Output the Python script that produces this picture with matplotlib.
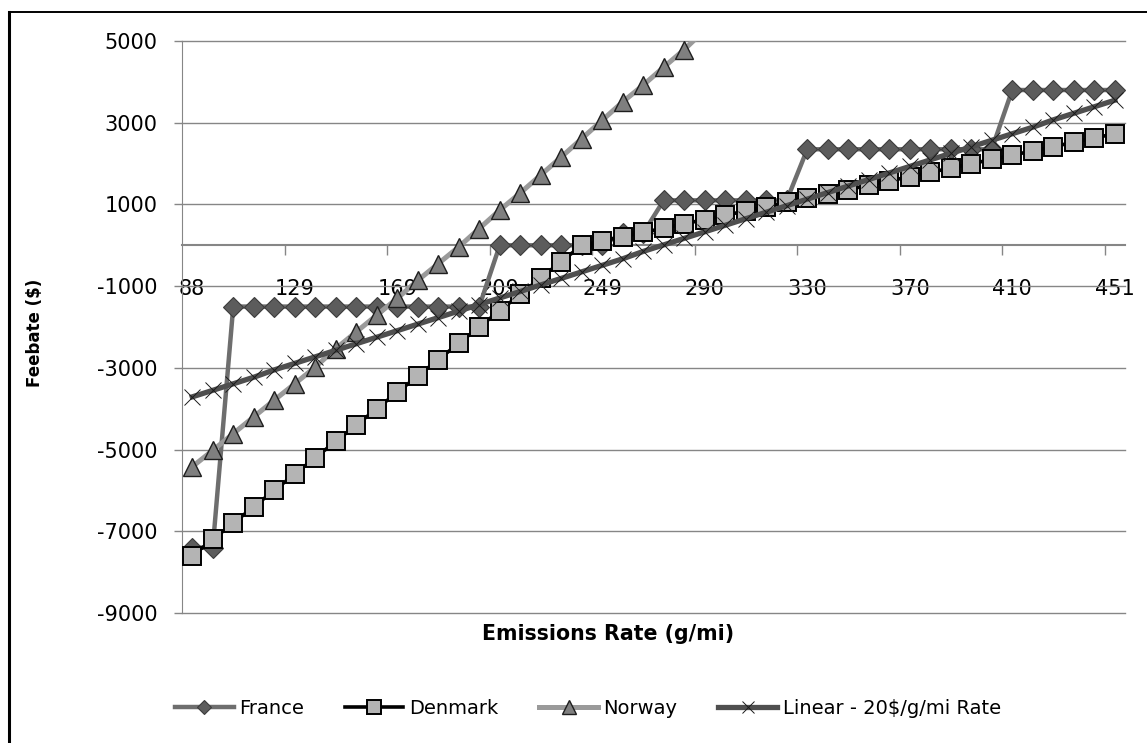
import numpy as np
import matplotlib
matplotlib.use('Agg')
import matplotlib.pyplot as plt
from matplotlib.lines import Line2D

# emission rate categories (g/mi)
rates = [88, 96, 104, 112, 121, 129, 137, 145, 153, 161,
         169, 177, 185, 193, 201, 209, 217, 225, 233, 241,
         249, 257, 266, 274, 282, 290, 298, 306, 314, 322,
         330, 338, 346, 354, 362, 370, 378, 386, 394, 402,
         410, 418, 427, 435, 443, 451]

france = [-7400, -7400, -1500, -1500, -1500, -1500, -1500, -1500, -1500, -1500,
          -1500, -1500, -1500, -1500, -1500, 0, 0, 0, 0, 0,
          0, 300, 300, 1100, 1100, 1100, 1100, 1100, 1100, 1100,
          2350, 2350, 2350, 2350, 2350, 2350, 2350, 2350, 2350, 2350,
          3800, 3800, 3800, 3800, 3800, 3800]

denmark = [-7600, -7200, -6800, -6400, -6000, -5600, -5200, -4800, -4400, -4000,
           -3600, -3200, -2800, -2400, -2000, -1600, -1200, -800, -400, 0,
           105, 210, 315, 420, 525, 630, 735, 840, 945, 1050,
           1155, 1260, 1365, 1470, 1575, 1680, 1785, 1890, 1995, 2100,
           2205, 2310, 2415, 2520, 2625, 2730]

# Norway runs off the top of the chart after 290 g/mi
norway = [-5420, -5020, -4610, -4200, -3790, -3390, -2980, -2530, -2120, -1710,
          -1300, -860, -450, -40, 410, 860, 1280, 1720, 2160, 2610,
          3060, 3510, 3920, 4360, 4790, 5270]

linear = [-3710, -3550, -3390, -3230, -3050, -2890, -2730, -2570, -2410, -2250,
          -2090, -1930, -1770, -1610, -1450, -1290, -1130, -970, -810, -650,
          -490, -330, -150, 10, 170, 330, 490, 650, 810, 970,
          1130, 1290, 1450, 1610, 1770, 1930, 2090, 2250, 2410, 2570,
          2730, 2890, 3070, 3230, 3390, 3550]

yticks = [5000, 3000, 1000, -1000, -3000, -5000, -7000, -9000]
ymin, ymax = -9000, 5000

gridc = '#868686'
tickfs = 15
titlefs = 14.8
ylabfs = 12
legendfs = 14

fig = plt.figure(figsize=(11.47, 7.43), dpi=100)
ax = fig.add_axes([182/1147, 1 - 613/743, (1125 - 182)/1147, (613 - 41)/743])

idx = np.arange(len(rates))

def inside(vals):
    # markers only for points that fall within the value axis
    return [i for i, v in enumerate(vals) if ymin <= v <= ymax]

ax.plot(idx[:len(france)], france, '-', color='#6e6e6e', linewidth=3.2,
        marker='D', markersize=10, markerfacecolor='#5c5c5c',
        markeredgecolor='#3c3c3c', markeredgewidth=0.8, label='France', zorder=3)
ax.plot(idx[:len(denmark)], denmark, '-', color='black', linewidth=2.6,
        marker='s', markersize=13, markerfacecolor='#b4b4b4',
        markeredgecolor='black', markeredgewidth=1.4, label='Denmark', zorder=4)
ax.plot(idx[:len(norway)], norway, '-', color='#9a9a9a', linewidth=3.6,
        marker='^', markersize=13, markerfacecolor='#7f7f7f',
        markeredgecolor='#1e1e1e', markeredgewidth=1.0, markevery=inside(norway),
        label='Norway', zorder=5)
ax.plot(idx[:len(linear)], linear, '-', color='#4f4f4f', linewidth=3.8,
        marker='x', markersize=11, markeredgecolor='#1a1a1a',
        markeredgewidth=0.7, label='Linear - 20$/g/mi Rate', zorder=6)

ax.set_xlim(-0.5, len(rates) - 0.5)
ax.set_ylim(ymin, ymax)

# y axis
ax.set_yticks(yticks)
ax.set_yticklabels([str(v) for v in yticks])
ax.yaxis.grid(True, color=gridc, linewidth=1.0)
for gl in ax.get_ygridlines():
    gl.set_clip_on(False)
ax.set_axisbelow(True)
ax.tick_params(axis='y', direction='out', length=5.8, width=1, color=gridc,
               labelsize=tickfs, pad=12)

# category axis crosses at zero, tick marks between categories
ax.spines['bottom'].set_position(('data', 0))
ax.spines['bottom'].set_color(gridc)
ax.spines['bottom'].set_linewidth(1.5)
ax.spines['left'].set_color(gridc)
ax.spines['top'].set_visible(False)
ax.spines['right'].set_visible(False)
ax.set_xticks(np.arange(4.5, len(rates) - 0.5, 5))
ax.set_xticklabels([])
ax.tick_params(axis='x', which='major', direction='out', length=7, width=1, color=gridc)
lab_idx = np.arange(0, len(rates), 5)
ax.set_xticks(lab_idx, minor=True)
ax.set_xticklabels([str(rates[i]) for i in lab_idx], minor=True)
ax.tick_params(axis='x', which='minor', length=0, labelsize=tickfs, pad=24)

fig.text(35/1147, 1 - 333/743, 'Feebate ($)', rotation=90, fontsize=ylabfs,
         fontweight='bold', ha='center', va='center')
fig.text(608/1147, 1 - 634/743, 'Emissions Rate (g/mi)', fontsize=titlefs,
         fontweight='bold', ha='center', va='center')

fig.legend(loc='center', bbox_to_anchor=(588/1147, 1 - 708/743), ncol=4,
           frameon=False, fontsize=legendfs, handlelength=3, markerscale=0.75,
           columnspacing=2.1, handletextpad=0.3)

# chart frame
fig.add_artist(Line2D([9/1147, 9/1147], [0, 1 - 12/743], transform=fig.transFigure,
                      color='black', linewidth=2.2))
fig.add_artist(Line2D([9/1147, 1], [1 - 12/743, 1 - 12/743], transform=fig.transFigure,
                      color='black', linewidth=1.4))

fig.savefig('out.png', dpi=100)
